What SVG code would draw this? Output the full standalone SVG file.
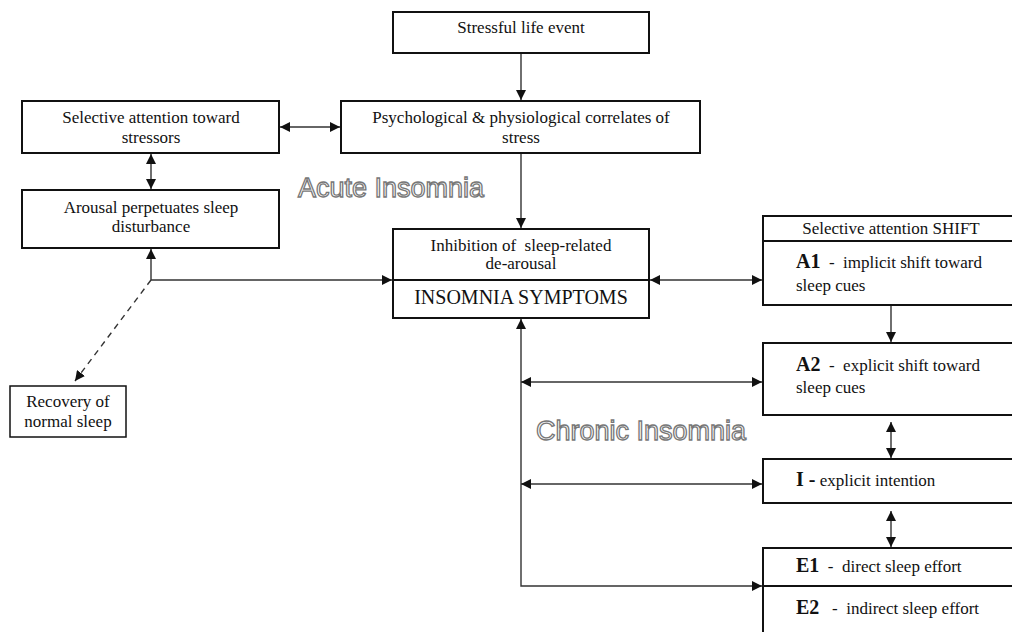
<svg xmlns="http://www.w3.org/2000/svg" width="1012" height="632" viewBox="0 0 1012 632">
<defs>
<style>
.box{fill:#fff;stroke:#111;stroke-width:2}
.div{stroke:#111;stroke-width:2}
.t{font-family:"Liberation Serif","Times New Roman",serif;font-size:17px;fill:#111}
.c{text-anchor:middle}
.b{font-weight:bold;font-size:20px}
.big{font-size:20px}
.con{stroke:#333;stroke-width:1.4;fill:none}
.dash{stroke-dasharray:6,5}
.lab{font-family:"Liberation Sans",Arial,sans-serif;font-size:27px;fill:#fff;stroke:#777;stroke-width:1.3}
</style>
<marker id="ah" viewBox="0 0 10 10" refX="10" refY="5" markerWidth="10" markerHeight="10" markerUnits="userSpaceOnUse" orient="auto-start-reverse">
<path d="M0,0 L10,5 L0,10 z" fill="#111"/>
</marker>
</defs>
<rect width="1012" height="632" fill="#fff"/>

<g id="connectors">
<line class="con" x1="521" y1="53" x2="521" y2="100" marker-end="url(#ah)"/>
<line class="con" x1="521" y1="153" x2="521" y2="228" marker-end="url(#ah)"/>
<line class="con" x1="280" y1="127" x2="340" y2="127" marker-start="url(#ah)" marker-end="url(#ah)"/>
<line class="con" x1="151" y1="154" x2="151" y2="189" marker-start="url(#ah)" marker-end="url(#ah)"/>
<polyline class="con" points="151,249 151,280 392,280" marker-start="url(#ah)" marker-end="url(#ah)"/>
<line class="con dash" x1="151" y1="280" x2="75" y2="381" marker-end="url(#ah)"/>
<line class="con" x1="650" y1="280" x2="762" y2="280" marker-start="url(#ah)" marker-end="url(#ah)"/>
<line class="con" x1="891" y1="305" x2="891" y2="342" marker-end="url(#ah)"/>
<line class="con" x1="891" y1="422" x2="891" y2="458" marker-start="url(#ah)" marker-end="url(#ah)"/>
<line class="con" x1="891" y1="511" x2="891" y2="547" marker-start="url(#ah)" marker-end="url(#ah)"/>
<polyline class="con" points="521,319 521,586 762,586" marker-start="url(#ah)" marker-end="url(#ah)"/>
<line class="con" x1="521" y1="382" x2="762" y2="382" marker-start="url(#ah)" marker-end="url(#ah)"/>
<line class="con" x1="521" y1="484" x2="762" y2="484" marker-start="url(#ah)" marker-end="url(#ah)"/>
</g>

<g id="stressful">
<rect class="box" x="393" y="12" width="256" height="41"/>
<text class="t c" x="521" y="33">Stressful life event</text>
</g>

<g id="psych">
<rect class="box" x="341" y="101" width="359" height="52"/>
<text class="t c" x="521" y="123">Psychological &amp; physiological correlates of</text>
<text class="t c" x="521" y="143">stress</text>
</g>

<g id="selective">
<rect class="box" x="22" y="101" width="257" height="52"/>
<text class="t c" x="151" y="123">Selective attention toward</text>
<text class="t c" x="151" y="143">stressors</text>
</g>

<g id="arousal">
<rect class="box" x="22" y="190" width="257" height="58"/>
<text class="t c" x="151" y="213">Arousal perpetuates sleep</text>
<text class="t c" x="151" y="232">disturbance</text>
</g>

<g id="inhibition">
<rect class="box" x="393" y="229" width="256" height="89"/>
<line class="div" x1="393" y1="280" x2="649" y2="280"/>
<text class="t c" x="521" y="251" xml:space="preserve">Inhibition of  sleep-related</text>
<text class="t c" x="521" y="269">de-arousal</text>
<text class="t c big" x="521" y="304">INSOMNIA SYMPTOMS</text>
</g>

<g id="recovery">
<rect class="box" x="10" y="386" width="116" height="51" style="stroke-width:1.5"/>
<text class="t c" x="68" y="407">Recovery of</text>
<text class="t c" x="68" y="427">normal sleep</text>
</g>

<g id="shift">
<rect class="box" x="763" y="216" width="260" height="89"/>
<line class="div" x1="763" y1="241" x2="1023" y2="241"/>
<text class="t c" x="891" y="234">Selective attention SHIFT</text>
<text class="t" x="796" y="268" xml:space="preserve"><tspan class="b">A1</tspan>  -  implicit shift toward</text>
<text class="t" x="796" y="291">sleep cues</text>
</g>

<g id="a2">
<rect class="box" x="763" y="343" width="260" height="72"/>
<text class="t" x="796" y="371" xml:space="preserve"><tspan class="b">A2</tspan>  -  explicit shift toward</text>
<text class="t" x="796" y="393">sleep cues</text>
</g>

<g id="intention">
<rect class="box" x="763" y="459" width="260" height="44"/>
<text class="t" x="796" y="486"><tspan class="b">I -</tspan> explicit intention</text>
</g>

<g id="effort">
<rect class="box" x="763" y="548" width="260" height="90"/>
<line class="div" x1="763" y1="586" x2="1023" y2="586"/>
<text class="t" x="796" y="572" xml:space="preserve"><tspan class="b">E1</tspan>  -  direct sleep effort</text>
<text class="t" x="796" y="614" xml:space="preserve"><tspan class="b">E2</tspan>   -  indirect sleep effort</text>
</g>

<g id="labels">
<text class="lab" x="298" y="197">Acute Insomnia</text>
<text class="lab" x="536" y="440">Chronic Insomnia</text>
</g>
</svg>
